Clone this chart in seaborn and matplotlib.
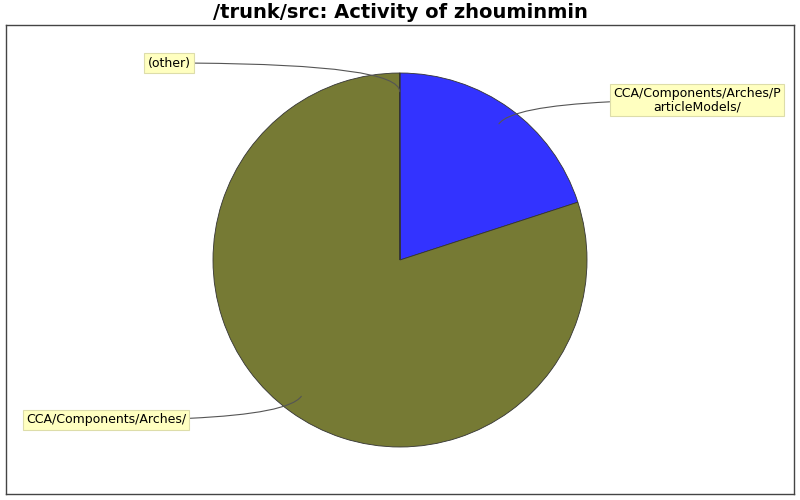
import numpy as np
import matplotlib
matplotlib.use("Agg")
import matplotlib.pyplot as plt
import seaborn as sns

title = "/trunk/src: Activity of zhouminmin"
labels = ["CCA/Components/Arches/P\narticleModels/", "CCA/Components/Arches/", "(other)"]
values = [20.0, 79.95, 0.05]
colors = ["#3333FF", "#767A34", "#767A34"]

sns.set_style("white")
plt.rcParams['font.family'] = ['DejaVu Sans']
plt.rcParams['text.color'] = 'black'

fig = plt.figure(figsize=(8, 5), dpi=100)
ax = fig.add_axes([6/800, 6/500, 788/800, 469/500])

cx, cy, R = 400, 240, 187
wedges, _ = ax.pie(values, colors=colors, startangle=90, counterclock=False,
                   center=(cx, cy), radius=R, frame=True,
                   wedgeprops=dict(edgecolor="#333333", linewidth=0.6))
ax.set_aspect("auto")
ax.set_xlim(6, 794)
ax.set_ylim(6, 475)
ax.set_xticks([])
ax.set_yticks([])
for s in ax.spines.values():
    s.set_color("#444444")
    s.set_linewidth(1.0)

# label placements (text box centers, pixel-based layout)
text_pos = [(697, 400), (106, 80), (169, 437)]
text_side = [180, 0, 0]  # direction the connector leaves the text box

for w, lab, (tx, ty), side in zip(wedges, labels, text_pos, text_side):
    mid = (w.theta1 + w.theta2) / 2.0
    ax_ = cx + 0.9 * R * np.cos(np.radians(mid))
    ay_ = cy + 0.9 * R * np.sin(np.radians(mid))
    ax.annotate(lab, xy=(ax_, ay_), xytext=(tx, ty), ha="center", va="center",
                fontsize=9, linespacing=1.0, color="black",
                bbox=dict(boxstyle="square,pad=0.25", fc="#FFFFC0", ec="#DDDDAA", lw=0.8),
                arrowprops=dict(arrowstyle="-", color="#555555", lw=0.8,
                                shrinkA=0, shrinkB=0,
                                connectionstyle=f"angle3,angleA={side},angleB={mid}"))

fig.text(0.5, 1 - 13/500, title, ha="center", va="center", fontsize=14,
         fontweight="bold", color="black")

fig.savefig("out.png", dpi=100)
